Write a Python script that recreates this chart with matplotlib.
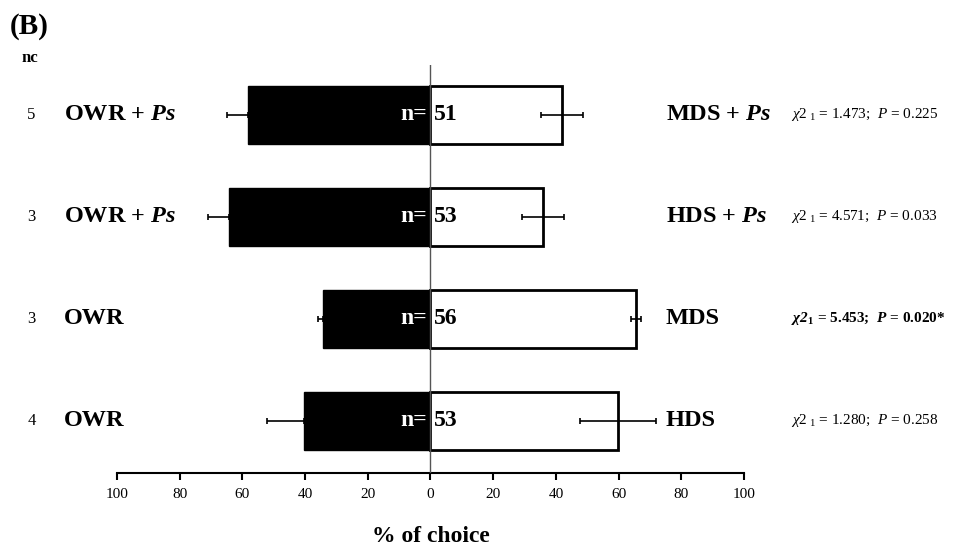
import matplotlib
matplotlib.use("Agg")
import matplotlib.pyplot as plt
import numpy as np

plt.rcParams['font.family'] = ['Liberation Serif', 'DejaVu Serif']
plt.rcParams['mathtext.fontset'] = 'custom'
plt.rcParams['mathtext.rm'] = 'Liberation Serif'
plt.rcParams['mathtext.it'] = 'Liberation Serif:italic'
plt.rcParams['mathtext.bf'] = 'Liberation Serif:bold'
plt.rcParams['mathtext.bfit'] = 'Liberation Serif:italic:bold'

# data, top row first
nc = ["5", "3", "3", "4"]
left_labels = [r"OWR + $\mathbfit{Ps}$", r"OWR + $\mathbfit{Ps}$", "OWR", "OWR"]
right_labels = [r"MDS + $\mathbfit{Ps}$", r"HDS + $\mathbfit{Ps}$", "MDS", "HDS"]
owr = [58.2, 64.2, 34.4, 40.2]
other = [41.8, 35.8, 65.6, 59.8]
err = [6.7, 6.7, 1.5, 12.0]
n_total = [51, 53, 56, 53]
chi2 = ["1.473", "4.571", "5.453", "1.280"]
pvals = ["0.225", "0.033", "0.020*", "0.258"]
signif = [False, False, True, False]

fig = plt.figure(figsize=(9.54, 5.45), dpi=100)
ax = fig.add_axes([117/954, 1-473/545, (744-117)/954, (473-65)/545])

y = np.arange(len(owr))[::-1]
h = 0.57
ax.barh(y, [-v for v in owr], height=h, color="black", edgecolor="black", linewidth=1)
ax.barh(y, other, height=h, color="white", edgecolor="black", linewidth=2)
ax.errorbar([-v for v in owr], y, xerr=[err, [0]*4], fmt="none", ecolor="black",
            elinewidth=1.2, capsize=2.5, capthick=1.2)
ax.errorbar(other, y, xerr=err, fmt="none", ecolor="black",
            elinewidth=1.2, capsize=2.5, capthick=1.2)
ax.axvline(0, color="#555555", linewidth=1, zorder=5)

ax.set_xlim(-100, 100)
ax.set_ylim(-0.51, 3.49)
ax.set_xticks(np.arange(-100, 101, 20))
ax.set_xticklabels([str(abs(t)) for t in range(-100, 101, 20)], fontsize=11)
ax.set_yticks([])
for s in ["left", "right", "top"]:
    ax.spines[s].set_visible(False)
ax.spines["bottom"].set_linewidth(1.5)
ax.tick_params(axis="x", direction="out", length=5, width=1.5, pad=6)
ax.set_xlabel("% of choice", fontsize=17, fontweight="bold", labelpad=17.5)

for i in range(len(owr)):
    yy = y[i]
    ax.text(-127.3, yy, nc[i], fontsize=12, ha="center", va="center", clip_on=False)
    ax.text(-117, yy, left_labels[i], fontsize=17.5, fontweight="bold", ha="left",
            va="center", clip_on=False)
    ax.text(75, yy, right_labels[i], fontsize=17.5, fontweight="bold", ha="left",
            va="center", clip_on=False)
    ax.text(-1, yy, "n=", fontsize=17, fontweight="bold", color="white",
            ha="right", va="center", zorder=6)
    ax.text(1, yy, str(n_total[i]), fontsize=17, fontweight="bold", color="black",
            ha="left", va="center", zorder=6)
    if signif[i]:
        st = r"$\mathbfit{\chi 2}_{\mathbf{1}}$ = " + chi2[i] + r";  $\mathbfit{P}$ = " + pvals[i]
        ax.text(115, yy, st, fontsize=11, fontweight="bold", ha="left", va="center", clip_on=False)
    else:
        st = r"$\mathit{\chi 2}_{\ 1}$ = " + chi2[i] + r";  $\mathit{P}$ = " + pvals[i]
        ax.text(115, yy, st, fontsize=11, ha="left", va="center", clip_on=False)

fig.text(10/954, 1-27/545, "(B)", fontsize=21, fontweight="bold", ha="left", va="center")
fig.text(22/954, 1-58/545, "nc", fontsize=12, fontweight="bold", ha="left", va="center")

fig.savefig("out.png", dpi=100)
